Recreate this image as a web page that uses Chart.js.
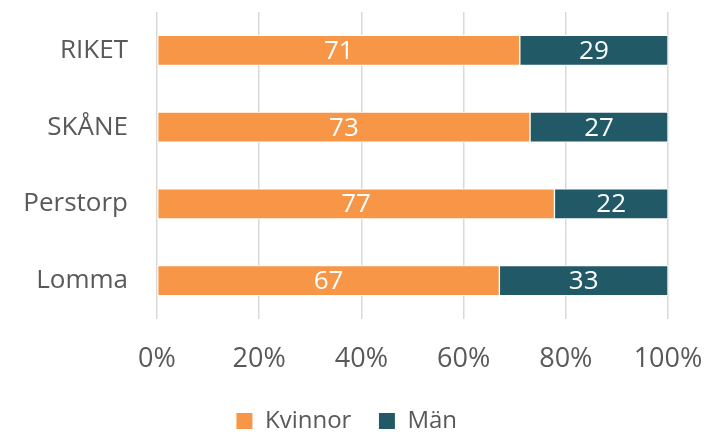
<!DOCTYPE html>
<html>
<head>
<meta charset="utf-8">
<script src="https://cdn.jsdelivr.net/npm/chart.js@4"></script>
<style>
  html, body { margin: 0; padding: 0; background: #fff; }
  #wrap { width: 705px; height: 432px; }
</style>
</head>
<body>
<div id="wrap"><canvas id="chart"></canvas></div>
<script>
const categories = ['RIKET', 'SKÅNE', 'Perstorp', 'Lomma'];
const kvinnor = [71, 73, 77, 67];
const man = [29, 27, 22, 33];
const tickLabels = ['0%', '20%', '40%', '60%', '80%', '100%'];

// 100 % stacked, as in the original: each row is share of its own total
const share = (a, b) => a.map((v, i) => v / (a[i] + b[i]) * 100);

const FONT = '"Open Sans", sans-serif';

// draws the value labels in the middle of each bar part
const barLabels = {
  id: 'barLabels',
  afterDatasetsDraw: (chart) => {
    const ctx = chart.ctx;
    ctx.save();
    ctx.fillStyle = '#ffffff';
    ctx.font = '26px ' + FONT;
    ctx.textAlign = 'center';
    ctx.textBaseline = 'middle';
    chart.data.datasets.forEach((ds, di) => {
      chart.getDatasetMeta(di).data.forEach((bar, i) => {
        const mid = (bar.x + bar.base) / 2;
        ctx.fillText(ds.raw[i], mid, bar.y + 1);
      });
    });
    ctx.restore();
  }
};

// fixed axis sizes so the plot sits where the original has it
const fitX = (scale) => {
  scale.paddingLeft = 0;
  scale.paddingRight = 0;
  scale.height = 63;
};
const fitY = (scale) => {
  scale.paddingTop = 0;
  scale.paddingBottom = 0;
  scale.width = 132;
};

new Chart(document.getElementById('chart'), {
  type: 'bar',
  data: {
    labels: categories,
    datasets: [
      { label: 'Kvinnor', raw: kvinnor, data: share(kvinnor, man), backgroundColor: '#F79646', borderColor: '#ffffff', borderWidth: 1, borderSkipped: false },
      { label: 'Män', raw: man, data: share(man, kvinnor), backgroundColor: '#215967', borderColor: '#ffffff', borderWidth: 1, borderSkipped: false }
    ]
  },
  options: {
    indexAxis: 'y',
    responsive: true,
    maintainAspectRatio: false,
    animation: false,
    layout: { padding: { top: 12, right: 37, bottom: -11, left: 25 } },
    datasets: { bar: { barThickness: 30 } },
    scales: {
      x: {
        stacked: true,
        min: 0,
        max: 100,
        afterFit: fitX,
        ticks: {
          stepSize: 20,
          padding: 24,
          color: '#595959',
          font: { family: FONT, size: 27 },
          callback: (v, i) => tickLabels[i]
        },
        grid: { color: '#d9d9d9', lineWidth: 1.5, drawTicks: false },
        border: { display: false }
      },
      y: {
        stacked: true,
        afterFit: fitY,
        ticks: {
          padding: 29,
          color: '#595959',
          font: { family: FONT, size: 26 }
        },
        grid: { display: false, drawTicks: false },
        border: { display: false }
      }
    },
    plugins: {
      legend: {
        position: 'bottom',
        labels: {
          boxWidth: 17,
          boxHeight: 17,
          padding: 27,
          color: '#595959',
          font: { family: FONT, size: 24, lineHeight: 1 }
        }
      },
      tooltip: { enabled: false }
    }
  },
  plugins: [barLabels]
});
</script>
</body>
</html>
